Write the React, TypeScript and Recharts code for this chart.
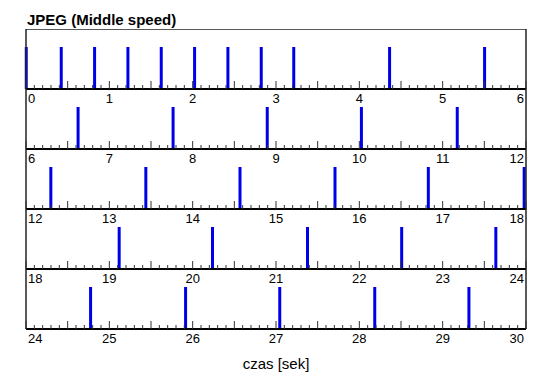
import { Bar, BarChart, ReferenceLine, XAxis, YAxis } from "recharts";

const title = "JPEG (Middle speed)";
const axisTitle = "czas [sek]";

// one row covers 6 seconds
const rowStarts = [0, 6, 12, 18, 24];
const rowLength = 6;

// event times, in seconds
const eventTimes = [
  0, 0.42, 0.82, 1.22, 1.62, 2.02, 2.42, 2.82, 3.21, 4.36, 5.5,
  6.62, 7.76, 8.89, 10.02, 11.17,
  12.3, 13.44, 14.57, 15.71, 16.83, 17.98,
  19.12, 20.24, 21.38, 22.51, 23.64,
  24.77, 25.91, 27.04, 28.18, 29.31,
];
const eventHeight = 0.7;

const FONT = "'Liberation Sans', Arial, Helvetica, sans-serif";
const ROW_H = 60;
const TOP = 29;

function makeTicks(start: number) {
  const out: number[] = [];
  for (let i = 0; i <= rowLength * 10; i++) out.push(Math.round((start + i / 10) * 10) / 10);
  return out;
}

function TimeTick(props: any) {
  const { x, y, payload, start } = props;
  const step = Math.round((payload.value - start) * 10);
  const tall = step % 5 === 0;
  const isInt = step % 10 === 0;
  let anchor: "start" | "middle" | "end" = "middle";
  let tx = x;
  if (step === 0) {
    anchor = "start";
    tx = x + 2;
  } else if (step === rowLength * 10) {
    anchor = "end";
    tx = x - 2;
  }
  return (
    <g>
      <line x1={x} x2={x} y1={y} y2={y - (tall ? 8 : 4)} stroke="#333" strokeWidth={1} />
      {isInt && (
        <text x={tx} y={y + 14} textAnchor={anchor} fontSize={13} fill="#000" fontFamily={FONT}>
          {Math.round(payload.value)}
        </text>
      )}
    </g>
  );
}

function Row({ start, first }: { start: number; first: boolean }) {
  const end = start + rowLength;
  const data = eventTimes
    .filter((t) => t >= start && t < end)
    .map((t) => ({ t, h: eventHeight }));
  return (
    <BarChart
      width={550}
      height={ROW_H + 22}
      data={data}
      margin={{ top: 0, right: 24, bottom: 0, left: 26 }}
    >
      <XAxis
        dataKey="t"
        type="number"
        domain={[start, end]}
        ticks={makeTicks(start)}
        interval={0}
        height={22}
        tickSize={0}
        tickMargin={0}
        axisLine={{ stroke: "#000", strokeWidth: 2 }}
        tick={(p: any) => <TimeTick {...p} start={start} />}
      />
      <YAxis hide domain={[0, 1]} />
      <ReferenceLine x={start} stroke="#222" strokeWidth={1.5} />
      <ReferenceLine x={end} stroke="#222" strokeWidth={1.5} />
      {first && <ReferenceLine y={1} stroke="#222" strokeWidth={1.5} />}
      <Bar dataKey="h" fill="#0000e8" barSize={3} isAnimationActive={false} />
    </BarChart>
  );
}

export default function App() {
  return (
    <div
      style={{
        position: "absolute",
        left: 0,
        top: 0,
        width: 550,
        height: 389,
        background: "#fff",
        fontFamily: FONT,
      }}
    >
      <div
        style={{
          position: "absolute",
          left: 27,
          top: 11,
          fontSize: 15,
          fontWeight: "bold",
          lineHeight: "17px",
        }}
      >
        {title}
      </div>
      {rowStarts.map((s, i) => (
        <div key={s} style={{ position: "absolute", left: 0, top: TOP + i * ROW_H }}>
          <Row start={s} first={i === 0} />
        </div>
      ))}
      <div
        style={{
          position: "absolute",
          left: 26,
          width: 500,
          top: 355,
          textAlign: "center",
          fontSize: 15,
          lineHeight: "17px",
        }}
      >
        {axisTitle}
      </div>
    </div>
  );
}
